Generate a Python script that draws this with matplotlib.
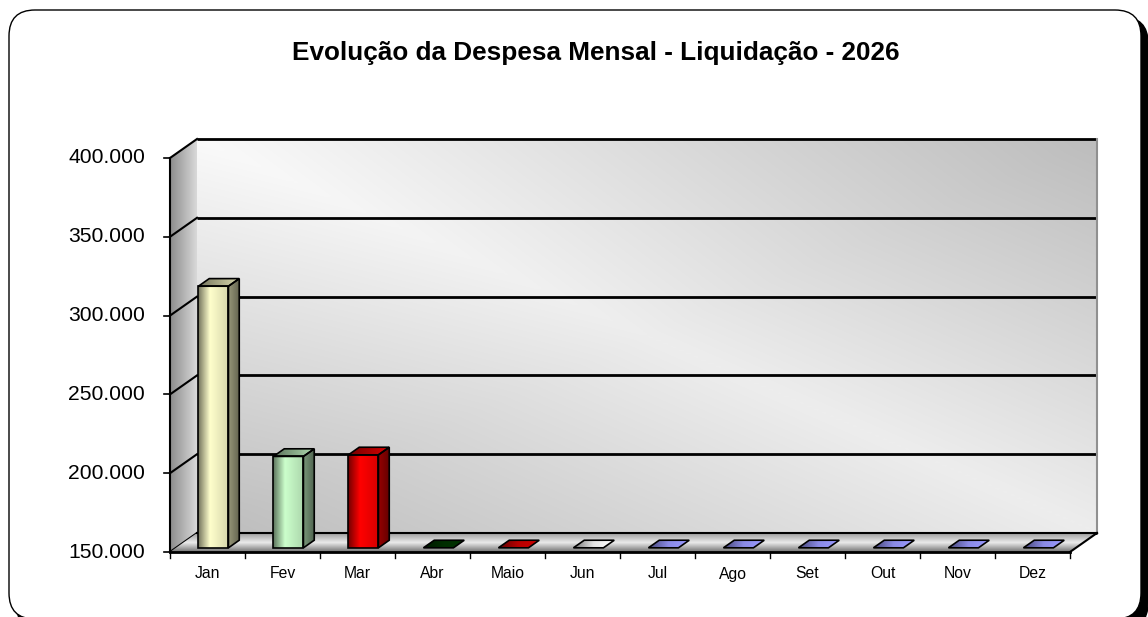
import numpy as np
import matplotlib
matplotlib.use("Agg")
import matplotlib.pyplot as plt
from matplotlib.patches import Polygon, FancyBboxPatch
from matplotlib.transforms import IdentityTransform, offset_copy
from matplotlib.colors import to_rgb

plt.rcParams['font.family'] = ['Liberation Sans', 'DejaVu Sans']

# ---------------- data ----------------
title = "Evolução da Despesa Mensal - Liquidação - 2026"
months = ["Jan", "Fev", "Mar", "Abr", "Maio", "Jun", "Jul", "Ago", "Set", "Out", "Nov", "Dez"]
values = [316000, 208000, 209000, 0, 0, 0, 0, 0, 0, 0, 0, 0]
bar_colors = ["#FFFFCC", "#CCFFCC", "#FF0000", "#003300", "#CC0000", "#FFFFFF",
              "#9999FF", "#9999FF", "#9999FF", "#9999FF", "#9999FF", "#9999FF"]
y_ticks = [150000, 200000, 250000, 300000, 350000, 400000]

# ---------------- layout ----------------
W, H = 1148, 617
fig = plt.figure(figsize=(W / 100, H / 100), dpi=100)
fig.patch.set_facecolor("white")

# outer rounded frame with shadow (display pixels)
shadow = FancyBboxPatch((16, -12), 1132, 612, boxstyle="round,pad=0,rounding_size=26",
                        transform=IdentityTransform(), facecolor="black", edgecolor="black",
                        zorder=-3)
frame = FancyBboxPatch((9, -2), 1132, 609, boxstyle="round,pad=0,rounding_size=26",
                       transform=IdentityTransform(), facecolor="white", edgecolor="black",
                       lw=1.0, zorder=-2)
fig.add_artist(shadow)
fig.add_artist(frame)

ax = fig.add_axes([0, 0, 1, 1])
ax.set_autoscale_on(False)
ax.axis("off")

# front plane pixel geometry
px_left, px_right = 170, 1070
py_bot, py_top = H - 552, H - 158
ymin, ymax = y_ticks[0], y_ticks[-1]
ncat = len(months)
sx = (px_right - px_left) / ncat
sy = (py_top - py_bot) / (ymax - ymin)
xlim = (-0.5 - px_left / sx, 11.5 + (W - px_right) / sx)
ylim = (ymin - py_bot / sy, ymax + (H - py_top) / sy)

DX = 27 / sx      # full depth offset in data units
DY = 19 / sy


def P(x, y, f):
    return (x + f * DX, y + f * DY)


def grad_poly(pts, arr, z):
    pts = np.array(pts)
    x0, y0 = pts.min(axis=0)
    x1, y1 = pts.max(axis=0)
    im = ax.imshow(arr, extent=(x0, x1, y0, y1), origin="lower", aspect="auto",
                   interpolation="bilinear", zorder=z)
    poly = Polygon(pts, closed=True, transform=ax.transData)
    im.set_clip_path(poly)
    return im


def hgrad(c, tp, pp, n=64):
    t = np.linspace(0, 1, n)
    p = np.interp(t, tp, pp)
    c = np.array(to_rgb(c))
    row = np.clip(c[None, :] * p[:, None], 0, 1)
    return np.repeat(row[None, :, :], 2, axis=0)


def vgrad(c, tp, pp, n=64):
    return np.transpose(hgrad(c, tp, pp, n), (1, 0, 2))


# back wall with diagonal gradient
ny, nx = 120, 240
xn = np.linspace(0, 1, nx)[None, :]
yn = np.linspace(0, 1, ny)[:, None]
u = xn + yn - 1
bright = 0.93 - 0.19 * np.abs(u) + 0.05 * np.clip(yn - xn, 0, 1)
wall = np.repeat(np.clip(bright, 0, 1)[:, :, None], 3, axis=2)
back_pts = [P(-0.5, ymin, 1), P(11.5, ymin, 1), P(11.5, ymax, 1), P(-0.5, ymax, 1)]
grad_poly(back_pts, wall, 1)

# side wall
side_pts = [P(-0.5, ymin, 0), P(-0.5, ymin, 1), P(-0.5, ymax, 1), P(-0.5, ymax, 0)]
grad_poly(side_pts, hgrad("#FFFFFF", [0, 1], [0.55, 0.85]), 1)

# gridlines (back wall + side wall)
for v in y_ticks:
    a, b = P(-0.5, v, 1), P(11.5, v, 1)
    ax.plot([a[0], b[0]], [a[1], b[1]], color="black", lw=2, zorder=2, solid_capstyle="butt")
    a, b = P(-0.5, v, 0), P(-0.5, v, 1)
    ax.plot([a[0], b[0]], [a[1], b[1]], color="black", lw=1.5, zorder=2)
a, b = P(11.5, ymin, 1), P(11.5, ymax, 1)
ax.plot([a[0], b[0]], [a[1], b[1]], color="#909090", lw=1.5, zorder=2)

# floor
floor_pts = [P(-0.5, ymin, 0), P(11.5, ymin, 0), P(11.5, ymin, 1), P(-0.5, ymin, 1)]
grad_poly(floor_pts, vgrad("#FFFFFF", [0, 0.5, 1], [0.45, 0.92, 0.62]), 3)
a, b = P(11.5, ymin, 0), P(11.5, ymin, 1)
ax.plot([a[0], b[0]], [a[1], b[1]], color="black", lw=1.5, zorder=4)
a, b = P(-0.5, ymin, 1), P(11.5, ymin, 1)
ax.plot([a[0], b[0]], [a[1], b[1]], color="black", lw=1.5, zorder=4)

# axes lines
a, b = P(-0.5, ymin, 0), P(-0.5, ymax, 0)
ax.plot([a[0], b[0]], [a[1], b[1]], color="black", lw=1.5, zorder=4)
a, b = P(-0.5, ymin, 0), P(11.5, ymin, 0)
ax.plot([a[0], b[0]], [a[1], b[1]], color="black", lw=2, zorder=4)

# bars
f0, f1, hw = 0.22, 0.62, 0.2
for i, (v, c) in enumerate(zip(values, bar_colors)):
    h = max(v, ymin)
    top = [P(i - hw, h, f0), P(i + hw, h, f0), P(i + hw, h, f1), P(i - hw, h, f1)]
    if h > ymin:
        front = [P(i - hw, ymin, f0), P(i + hw, ymin, f0), P(i + hw, h, f0), P(i - hw, h, f0)]
        side = [P(i + hw, ymin, f0), P(i + hw, ymin, f1), P(i + hw, h, f1), P(i + hw, h, f0)]
        grad_poly(front, hgrad(c, [0, 0.4, 1], [0.45, 1.0, 0.85]), 5)
        grad_poly(side, hgrad(c, [0, 1], [0.6, 0.4]), 5)
        grad_poly(top, hgrad(c, [0, 1], [0.45, 0.85]), 5)
        for pts in (front, side, top):
            ax.add_patch(Polygon(pts, closed=True, facecolor="none", edgecolor="black",
                                 lw=1.2, zorder=6))
    else:
        grad_poly(top, hgrad(c, [0, 0.5, 1], [0.45, 0.9, 1.0]), 5)
        ax.add_patch(Polygon(top, closed=True, facecolor="none", edgecolor="black",
                             lw=1.2, zorder=6))

# y ticks and labels
lab_tr = offset_copy(ax.transData, fig=fig, x=-25, y=0, units="dots")
for v in y_ticks:
    ax.plot([-0.5 - 6 / sx, -0.5], [v, v], color="black", lw=1.2, zorder=4)
    ax.text(-0.5, v, f"{v:,.0f}".replace(",", "."), transform=lab_tr,
            ha="right", va="center", fontsize=15.2, color="black")

# x ticks and labels
for k in range(ncat + 1):
    x = k - 0.5
    ax.plot([x, x], [ymin, ymin - 6 / sy], color="black", lw=1.0, zorder=4)
xl_tr = offset_copy(ax.transData, fig=fig, x=0, y=-22, units="dots")
for i, m in enumerate(months):
    ax.text(i, ymin, m, transform=xl_tr, ha="center", va="center", fontsize=11.3, color="black")

ax.set_xlim(*xlim)
ax.set_ylim(*ylim)

fig.text(595.5 / W, 1 - 53 / H, title, ha="center", va="center",
         fontsize=18.8, fontweight="bold", color="black")

fig.savefig("out.png", dpi=100)
